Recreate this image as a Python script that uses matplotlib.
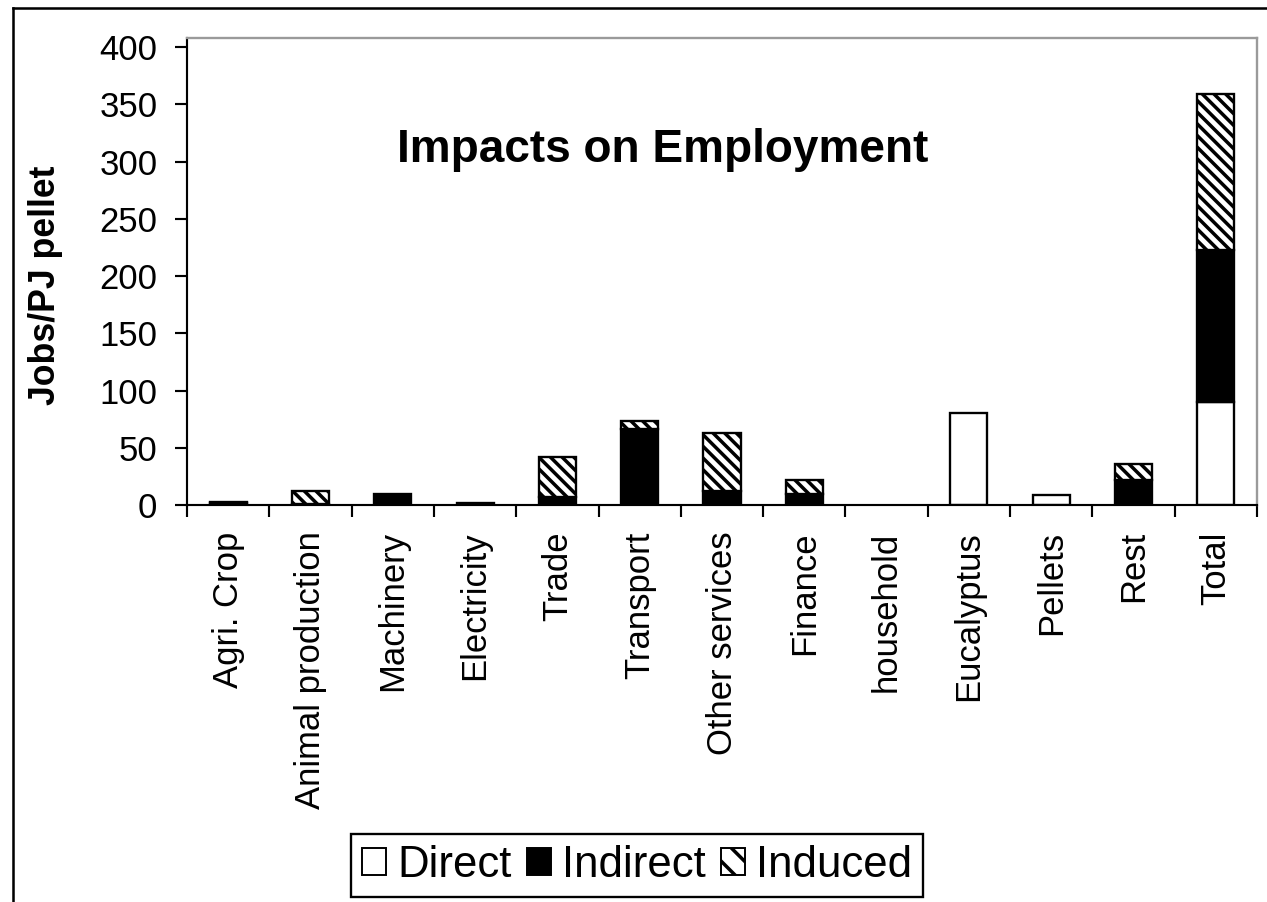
import matplotlib
matplotlib.use('Agg')
import matplotlib.pyplot as plt
from matplotlib.patches import Patch
from matplotlib.lines import Line2D
import numpy as np

plt.rcParams['font.family'] = ['Liberation Sans', 'DejaVu Sans']
plt.rcParams['hatch.linewidth'] = 1.8
plt.rcParams['hatch.color'] = 'black'

categories = ['Agri. Crop', 'Animal production', 'Machinery', 'Electricity', 'Trade',
              'Transport', 'Other services', 'Finance', 'household', 'Eucalyptus',
              'Pellets', 'Rest', 'Total']
direct = [0, 0, 0, 0, 0, 0, 0, 0, 0, 80, 9, 0, 90]
indirect = [2, 1, 10, 2, 7, 66, 12, 10, 0, 0, 0, 22, 133]
induced = [1, 11, 0, 0, 35, 7, 51, 12, 0, 0, 0, 14, 136]
y_ticks = [0, 50, 100, 150, 200, 250, 300, 350, 400]

dpi = 140
fig = plt.figure(figsize=(1267 / dpi, 902 / dpi), dpi=dpi)
ax = fig.add_axes([187 / 1267, 1 - 505 / 902, (1257 - 187) / 1267, (505 - 38) / 902])

x = np.arange(len(categories))
direct = np.array(direct, dtype=float)
indirect = np.array(indirect, dtype=float)
induced = np.array(induced, dtype=float)
width = 0.45
lw = 1.2
hatch = '\\\\\\\\'

# stacked bars, drawn only where there is something to draw
for i in x:
    if direct[i] > 0:
        ax.bar(i, direct[i], width, color='white', edgecolor='black', linewidth=lw)
    if indirect[i] > 0:
        ax.bar(i, indirect[i], width, bottom=direct[i], color='black', edgecolor='black', linewidth=lw)
    if induced[i] > 0:
        ax.bar(i, induced[i], width, bottom=direct[i] + indirect[i], color='white',
               edgecolor='black', hatch=hatch, linewidth=lw)

ax.set_xlim(-0.5, len(categories) - 0.5)
ax.set_ylim(0, 408)
ax.set_yticks(y_ticks)
ax.set_yticklabels([str(v) for v in y_ticks], fontsize=17.8)

# category boundaries get the tick marks, labels sit in between
ax.set_xticks(np.arange(-0.5, len(categories), 1.0))
ax.set_xticklabels([])
ax.set_xticks(x, minor=True)
ax.set_xticklabels(categories, minor=True, rotation=90, fontsize=17.8, va='top', ha='center')
ax.tick_params(axis='x', which='major', direction='out', length=6.2, width=1.1, color='black')
ax.tick_params(axis='x', which='minor', length=0, pad=13.5)
ax.tick_params(axis='y', direction='out', length=6.2, width=1.1, pad=9)

for side in ['left', 'bottom']:
    ax.spines[side].set_color('black')
    ax.spines[side].set_linewidth(1.1)
for side in ['top', 'right']:
    ax.spines[side].set_color('#9a9a9a')
    ax.spines[side].set_linewidth(1.2)

fig.text(663 / 1267, 1 - 162 / 902, 'Impacts on Employment', fontsize=23.7,
         fontweight='bold', ha='center', va='baseline')
fig.text(46 / 1267, 1 - 285 / 902, 'Jobs/PJ pellet', fontsize=18.3, fontweight='bold',
         rotation=90, ha='center', va='center')

handles = [
    Patch(facecolor='white', edgecolor='black', linewidth=1.0, label='Direct'),
    Patch(facecolor='black', edgecolor='black', linewidth=1.0, label='Indirect'),
    Patch(facecolor='white', edgecolor='black', hatch='\\\\', linewidth=1.0, label='Induced'),
]
leg = fig.legend(handles=handles, loc='center', bbox_to_anchor=(637 / 1267, 1 - 865.5 / 902),
                 ncol=3, fontsize=22.5, frameon=True, fancybox=False, shadow=False,
                 handlelength=0.55, handleheight=0.55, handletextpad=0.25, columnspacing=0.35,
                 borderpad=0.25, borderaxespad=0)
leg.get_frame().set_edgecolor('black')
leg.get_frame().set_linewidth(1.2)
leg.get_frame().set_alpha(1)

# outer chart border (only top and left are visible in the original crop)
fig.add_artist(Line2D([13 / 1267, 13 / 1267], [0, 1 - 8 / 902], color='black', linewidth=1.3))
fig.add_artist(Line2D([13 / 1267, 1], [1 - 8 / 902, 1 - 8 / 902], color='black', linewidth=1.3))

fig.savefig('out.png', dpi=dpi)
